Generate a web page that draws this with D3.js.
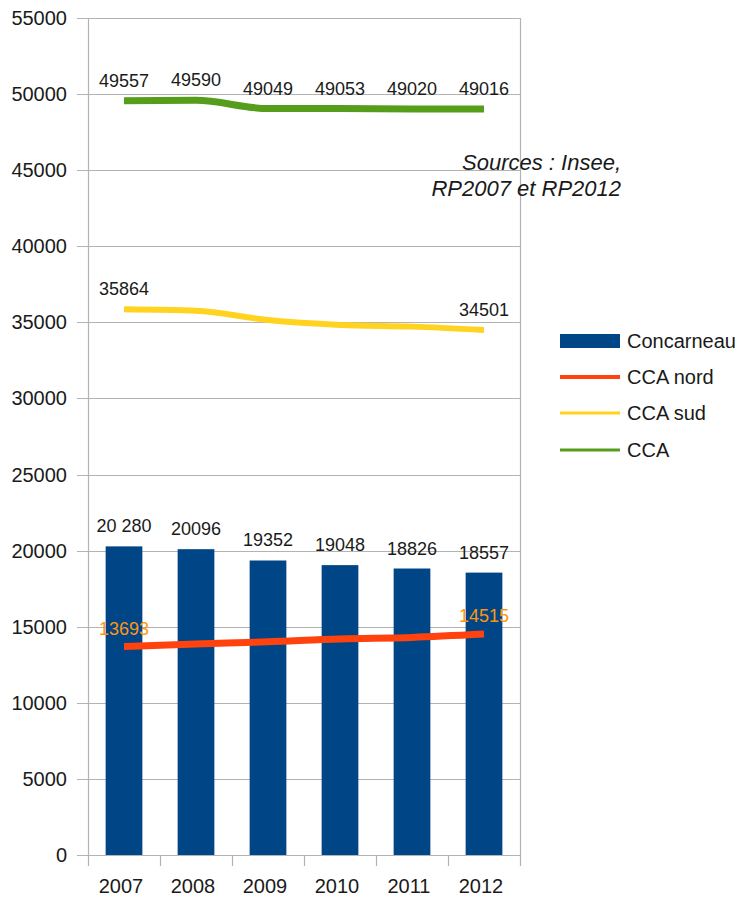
<!doctype html>
<meta charset="utf-8">
<script src="https://d3js.org/d3.v7.min.js"></script>
<style>
  body { margin: 0; background: #fff; }
  text { font-family: "Liberation Sans", Arial, sans-serif; fill: #1a1a1a; }
</style>
<body>
<svg width="745" height="897"></svg>
<script>
  // --- data ---
  var years = ["2007", "2008", "2009", "2010", "2011", "2012"];
  var concarneau = [20280, 20096, 19352, 19048, 18826, 18557];
  var concarneauLabels = ["20 280", "20096", "19352", "19048", "18826", "18557"];
  var ccaNord = [13693, 13860, 14010, 14200, 14300, 14515];
  var ccaSud = [35864, 35770, 35150, 34830, 34720, 34501];
  var cca = [49557, 49590, 49049, 49053, 49020, 49016];
  var yTicks = [0, 5000, 10000, 15000, 20000, 25000, 30000, 35000, 40000, 45000, 50000, 55000];
  var legendNames = ["Concarneau", "CCA nord", "CCA sud", "CCA"];

  var svg = d3.select("svg");
  var plotLeft = 88, plotRight = 520, plotTop = 18, plotBottom = 855;

  var x = d3.scaleBand().domain(years).range([plotLeft, plotRight]).paddingInner(0.49).paddingOuter(0.245);
  var xb = d3.scaleBand().domain(years).range([plotLeft, plotRight]);
  var y = d3.scaleLinear().domain([0, 55000]).range([plotBottom, plotTop]);

  // grid lines + y labels
  svg.append("g").selectAll("line").data(yTicks).enter().append("line")
    .attr("x1", 77).attr("x2", plotRight)
    .attr("y1", function (d) { return Math.round(y(d)) + 0.5; })
    .attr("y2", function (d) { return Math.round(y(d)) + 0.5; })
    .style("stroke", "#b3b3b3").style("stroke-width", 1.2);

  svg.append("g").selectAll("text").data(yTicks).enter().append("text")
    .attr("x", 67).attr("y", function (d) { return y(d) + 7; })
    .attr("text-anchor", "end").attr("font-size", "20px")
    .text(function (d) { return d; });

  // axis lines
  svg.append("line").attr("x1", plotLeft + 0.5).attr("x2", plotLeft + 0.5).attr("y1", plotTop).attr("y2", plotBottom + 11)
    .style("stroke", "#b3b3b3").style("stroke-width", 1.2);
  svg.append("line").attr("x1", plotRight + 0.5).attr("x2", plotRight + 0.5).attr("y1", plotTop).attr("y2", plotBottom + 11)
    .style("stroke", "#b3b3b3").style("stroke-width", 1.2);
  svg.append("g").selectAll("line").data(years.slice(1)).enter().append("line")
    .attr("x1", function (d) { return xb(d) + 0.5; })
    .attr("x2", function (d) { return xb(d) + 0.5; })
    .attr("y1", plotBottom).attr("y2", plotBottom + 11)
    .style("stroke", "#b3b3b3").style("stroke-width", 1.2);

  // x labels
  svg.append("g").selectAll("text").data(years).enter().append("text")
    .attr("x", function (d) { return xb(d) + xb.bandwidth() / 2 - 3; })
    .attr("y", 893).attr("text-anchor", "middle").attr("font-size", "20px")
    .text(function (d) { return d; });

  // bars
  svg.append("g").selectAll("rect").data(concarneau).enter().append("rect")
    .attr("x", function (d, i) { return x(years[i]); })
    .attr("y", function (d) { return y(d); })
    .attr("width", x.bandwidth())
    .attr("height", function (d) { return plotBottom - y(d); })
    .style("fill", "#004586");

  svg.append("g").selectAll("text").data(concarneau).enter().append("text")
    .attr("x", function (d, i) { return xb(years[i]) + xb.bandwidth() / 2; })
    .attr("y", function (d) { return y(d) - 14; })
    .attr("text-anchor", "middle").attr("font-size", "18px")
    .text(function (d, i) { return concarneauLabels[i]; });

  // lines
  function cx(i) { return xb(years[i]) + xb.bandwidth() / 2; }
  var line = d3.line()
    .x(function (d, i) { return cx(i); })
    .y(function (d) { return y(d); })
    .curve(d3.curveMonotoneX);

  var series = [
    { values: ccaNord, color: "#ff420e", w: 7 },
    { values: ccaSud, color: "#ffd320", w: 6 },
    { values: cca, color: "#579d1c", w: 7 }
  ];
  series.forEach(function (s) {
    svg.append("path").attr("d", line(s.values))
      .style("fill", "none").style("stroke", s.color).style("stroke-width", s.w);
  });

  // line labels
  svg.append("g").selectAll("text").data(cca).enter().append("text")
    .attr("x", function (d, i) { return cx(i); })
    .attr("y", function (d) { return y(d) - 14; })
    .attr("text-anchor", "middle").attr("font-size", "18px")
    .text(function (d) { return d; });

  [0, 5].forEach(function (i) {
    svg.append("text").attr("x", cx(i)).attr("y", y(ccaSud[i]) - 14)
      .attr("text-anchor", "middle").attr("font-size", "18px").text(ccaSud[i]);
    svg.append("text").attr("x", cx(i)).attr("y", y(ccaNord[i]) - 12)
      .attr("text-anchor", "middle").attr("font-size", "18px")
      .style("fill", "#ff950e").text(ccaNord[i]);
  });

  // sources
  svg.append("text").attr("x", 621).attr("y", 170).attr("text-anchor", "end")
    .attr("font-size", "22px").attr("font-style", "italic").text("Sources : Insee,");
  svg.append("text").attr("x", 621).attr("y", 196).attr("text-anchor", "end")
    .attr("font-size", "22px").attr("font-style", "italic").text("RP2007 et RP2012");

  // legend
  var legColors = ["#004586", "#ff420e", "#ffd320", "#579d1c"];
  var legY = [341, 377, 413, 450];
  legendNames.forEach(function (n, i) {
    if (i === 0) {
      svg.append("rect").attr("x", 560).attr("y", legY[i] - 7).attr("width", 60).attr("height", 14)
        .style("fill", legColors[i]);
    } else {
      svg.append("line").attr("x1", 560).attr("x2", 620).attr("y1", legY[i]).attr("y2", legY[i])
        .style("stroke", legColors[i]).style("stroke-width", i === 1 ? 4 : 3);
    }
    svg.append("text").attr("x", 627).attr("y", legY[i] + 7).attr("font-size", "20px").text(n);
  });
</script>
</body>
